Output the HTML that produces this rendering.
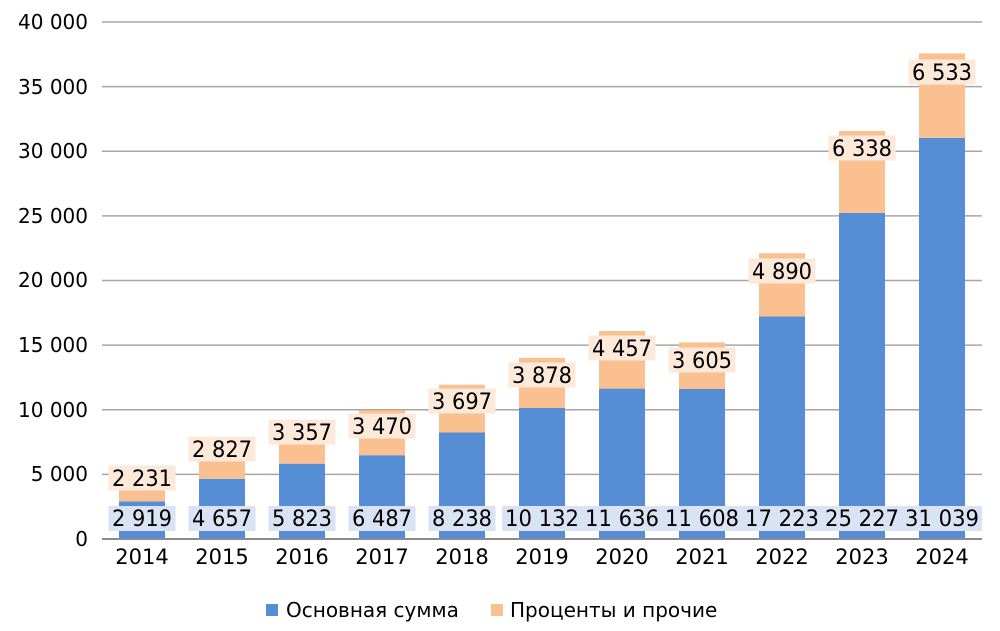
<!DOCTYPE html>
<html><head><meta charset="utf-8"><style>
html,body{margin:0;padding:0;background:#fff;}
svg{display:block;font-family:"DejaVu Sans","Liberation Sans",sans-serif;}
</style></head><body>
<svg width="1000" height="631" viewBox="0 0 1000 631" xmlns="http://www.w3.org/2000/svg">
<g stroke="#a6a6a6" stroke-width="1.5">
<line x1="102" x2="982" y1="22" y2="22"/>
<line x1="102" x2="982" y1="86.6" y2="86.6"/>
<line x1="102" x2="982" y1="151.3" y2="151.3"/>
<line x1="102" x2="982" y1="215.9" y2="215.9"/>
<line x1="102" x2="982" y1="280.5" y2="280.5"/>
<line x1="102" x2="982" y1="345.1" y2="345.1"/>
<line x1="102" x2="982" y1="409.8" y2="409.8"/>
<line x1="102" x2="982" y1="474.4" y2="474.4"/>
</g>
<g font-size="20" fill="#000" text-anchor="end">
<text x="88" y="29">40 000</text>
<text x="88" y="94">35 000</text>
<text x="88" y="158">30 000</text>
<text x="88" y="223">25 000</text>
<text x="88" y="287">20 000</text>
<text x="88" y="352">15 000</text>
<text x="88" y="417">10 000</text>
<text x="88" y="481">5 000</text>
<text x="88" y="546">0</text>
</g>
<g fill="#558ed5">
<rect x="119" y="501.3" width="46" height="37.7"/>
<rect x="199" y="478.8" width="46" height="60.2"/>
<rect x="279" y="463.7" width="46" height="75.3"/>
<rect x="359" y="455.2" width="46" height="83.8"/>
<rect x="439" y="432.5" width="46" height="106.5"/>
<rect x="519" y="408.0" width="46" height="131"/>
<rect x="599" y="388.6" width="46" height="150.4"/>
<rect x="679" y="389.0" width="46" height="150"/>
<rect x="759" y="316.4" width="46" height="222.6"/>
<rect x="839" y="212.9" width="46" height="326.1"/>
<rect x="919" y="137.8" width="46" height="401.2"/>
</g>
<g fill="#fac090">
<rect x="119" y="472.4" width="46" height="28.9"/>
<rect x="199" y="442.3" width="46" height="36.5"/>
<rect x="279" y="420.4" width="46" height="43.3"/>
<rect x="359" y="410.3" width="46" height="44.9"/>
<rect x="439" y="384.7" width="46" height="47.8"/>
<rect x="519" y="357.9" width="46" height="50.1"/>
<rect x="599" y="331.0" width="46" height="57.6"/>
<rect x="679" y="342.4" width="46" height="46.6"/>
<rect x="759" y="253.2" width="46" height="63.2"/>
<rect x="839" y="131.0" width="46" height="81.9"/>
<rect x="919" y="53.4" width="46" height="84.4"/>
</g>
<line x1="102" x2="982" y1="539" y2="539" stroke="#8c8c8c" stroke-width="2"/>
<g fill="#dae3f3">
<rect x="108.5" y="506" width="67" height="25"/>
<rect x="188.5" y="506" width="67" height="25"/>
<rect x="268.5" y="506" width="67" height="25"/>
<rect x="348.5" y="506" width="67" height="25"/>
<rect x="428.5" y="506" width="67" height="25"/>
<rect x="502" y="506" width="80" height="25"/>
<rect x="582" y="506" width="80" height="25"/>
<rect x="662" y="506" width="80" height="25"/>
<rect x="742" y="506" width="80" height="25"/>
<rect x="822" y="506" width="80" height="25"/>
<rect x="902" y="506" width="80" height="25"/>
</g>
<g fill="#fde9d9">
<rect x="108.5" y="465.5" width="67" height="25"/>
<rect x="188.5" y="436.5" width="67" height="25"/>
<rect x="268.5" y="419.5" width="67" height="25"/>
<rect x="348.5" y="413.5" width="67" height="25"/>
<rect x="428.5" y="388.5" width="67" height="25"/>
<rect x="508.5" y="362.5" width="67" height="25"/>
<rect x="588.5" y="335.5" width="67" height="25"/>
<rect x="668.5" y="347.5" width="67" height="25"/>
<rect x="748.5" y="258.5" width="67" height="25"/>
<rect x="828.5" y="135.5" width="67" height="25"/>
<rect x="908.5" y="59.5" width="67" height="25"/>
</g>
<g font-size="22" fill="#000" lengthAdjust="spacingAndGlyphs">
<text x="112" y="526" textLength="60" lengthAdjust="spacingAndGlyphs">2 919</text>
<text x="192" y="526" textLength="60" lengthAdjust="spacingAndGlyphs">4 657</text>
<text x="272" y="526" textLength="60" lengthAdjust="spacingAndGlyphs">5 823</text>
<text x="352" y="526" textLength="60" lengthAdjust="spacingAndGlyphs">6 487</text>
<text x="432" y="526" textLength="60" lengthAdjust="spacingAndGlyphs">8 238</text>
<text x="505" y="526" textLength="74" lengthAdjust="spacingAndGlyphs">10 132</text>
<text x="585" y="526" textLength="74" lengthAdjust="spacingAndGlyphs">11 636</text>
<text x="665" y="526" textLength="74" lengthAdjust="spacingAndGlyphs">11 608</text>
<text x="745" y="526" textLength="74" lengthAdjust="spacingAndGlyphs">17 223</text>
<text x="825" y="526" textLength="74" lengthAdjust="spacingAndGlyphs">25 227</text>
<text x="905" y="526" textLength="74" lengthAdjust="spacingAndGlyphs">31 039</text>
<text x="112" y="486" textLength="60" lengthAdjust="spacingAndGlyphs">2 231</text>
<text x="192" y="457" textLength="60" lengthAdjust="spacingAndGlyphs">2 827</text>
<text x="272" y="440" textLength="60" lengthAdjust="spacingAndGlyphs">3 357</text>
<text x="352" y="434" textLength="60" lengthAdjust="spacingAndGlyphs">3 470</text>
<text x="432" y="409" textLength="60" lengthAdjust="spacingAndGlyphs">3 697</text>
<text x="512" y="383" textLength="60" lengthAdjust="spacingAndGlyphs">3 878</text>
<text x="592" y="356" textLength="60" lengthAdjust="spacingAndGlyphs">4 457</text>
<text x="672" y="368" textLength="60" lengthAdjust="spacingAndGlyphs">3 605</text>
<text x="752" y="279" textLength="60" lengthAdjust="spacingAndGlyphs">4 890</text>
<text x="832" y="156" textLength="60" lengthAdjust="spacingAndGlyphs">6 338</text>
<text x="912" y="80" textLength="60" lengthAdjust="spacingAndGlyphs">6 533</text>
</g>
<g font-size="21" text-anchor="middle" fill="#000">
<text x="142" y="564">2014</text>
<text x="222" y="564">2015</text>
<text x="302" y="564">2016</text>
<text x="382" y="564">2017</text>
<text x="462" y="564">2018</text>
<text x="542" y="564">2019</text>
<text x="622" y="564">2020</text>
<text x="702" y="564">2021</text>
<text x="782" y="564">2022</text>
<text x="862" y="564">2023</text>
<text x="942" y="564">2024</text>
</g>
<rect x="266" y="604" width="12" height="12" fill="#558ed5"/>
<text x="286" y="617" font-size="20">Основная сумма</text>
<rect x="491" y="604" width="12" height="12" fill="#fac090"/>
<text x="510" y="617" font-size="20">Проценты и прочие</text>
</svg>
</body></html>
